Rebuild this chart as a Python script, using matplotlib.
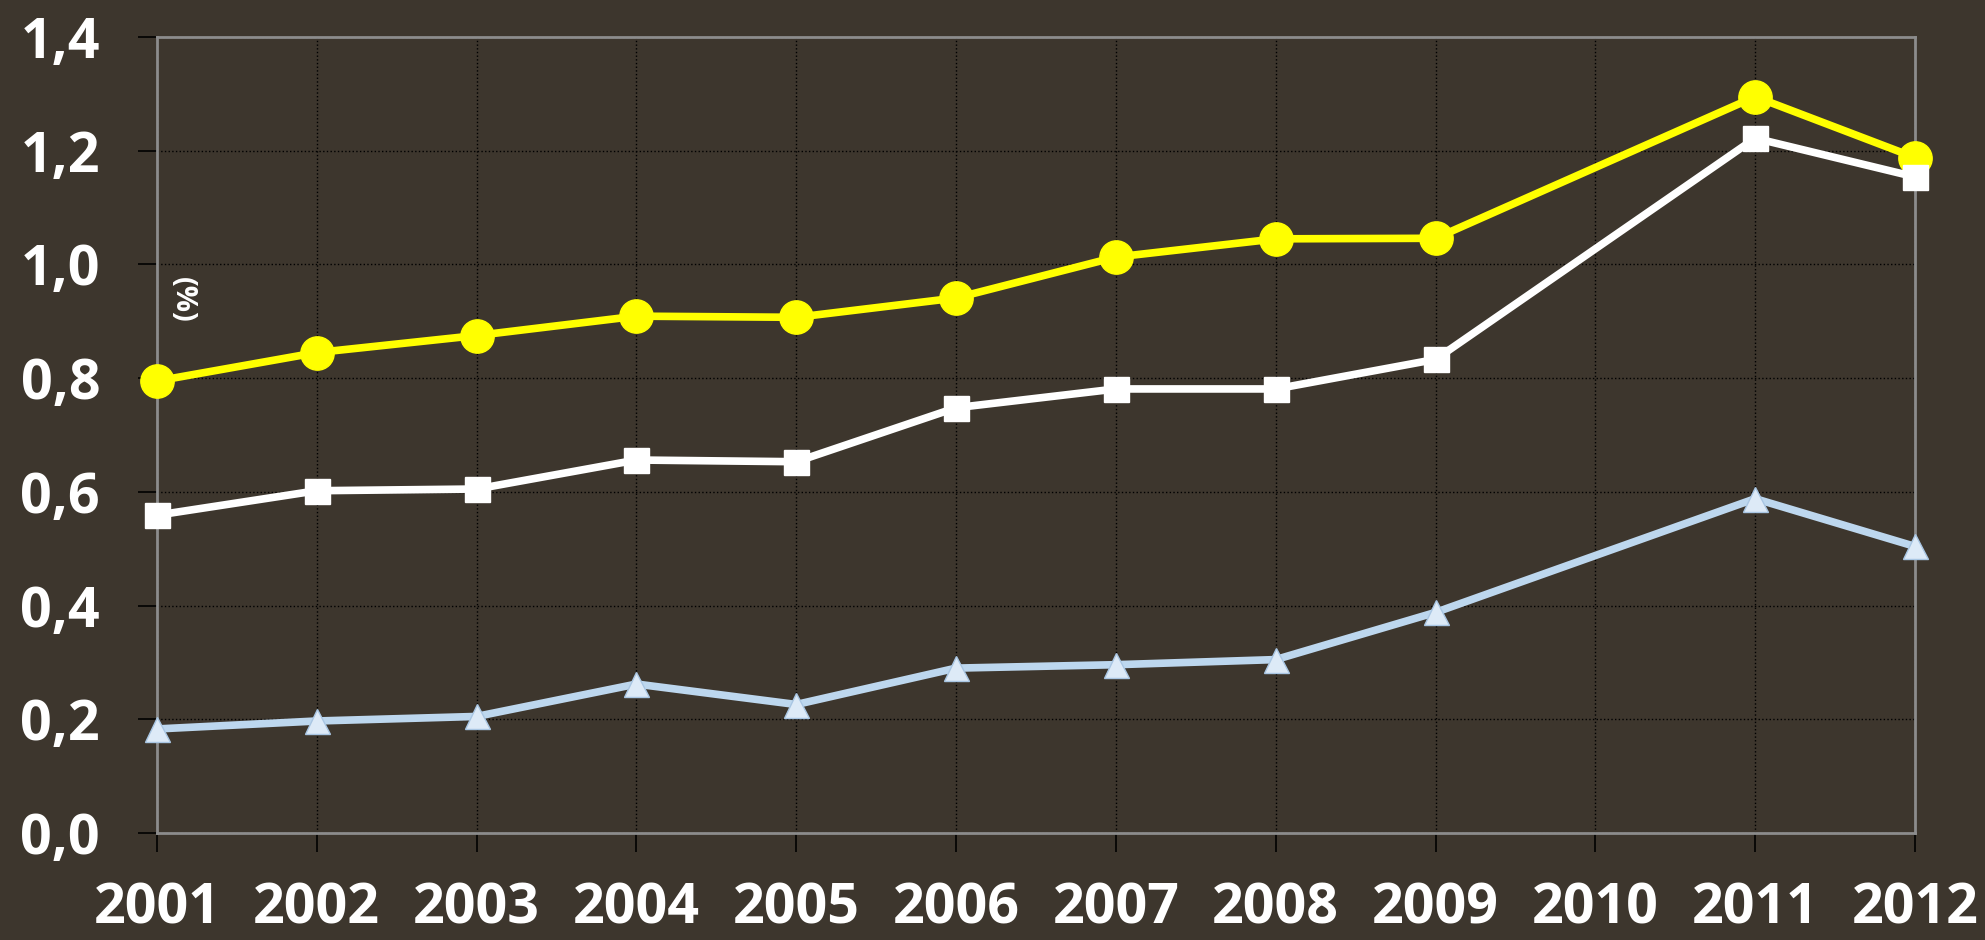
import matplotlib
matplotlib.use("Agg")
from matplotlib import pyplot as plt

years = ["2001", "2002", "2003", "2004", "2005", "2006", "2007", "2008", "2009", "2010", "2011", "2012"]
# None = no value for that year (line joins across the gap)
yellow_vals = [0.795, 0.845, 0.875, 0.909, 0.907, 0.941, 1.013, 1.045, 1.046, None, 1.295, 1.188]
white_vals = [0.559, 0.602, 0.605, 0.656, 0.653, 0.748, 0.781, 0.781, 0.833, None, 1.222, 1.154]
blue_vals = [0.183, 0.197, 0.205, 0.262, 0.226, 0.290, 0.296, 0.305, 0.388, None, 0.588, 0.504]
y_ticks = [0.0, 0.2, 0.4, 0.6, 0.8, 1.0, 1.2, 1.4]
y_labels = ["0,0", "0,2", "0,4", "0,6", "0,8", "1,0", "1,2", "1,4"]

bg = "#3d362d"
plt.rcParams['font.family'] = ['Open Sans', 'DejaVu Sans']

fig = plt.figure(figsize=(19.85, 9.4), dpi=100, facecolor=bg)
ax = fig.add_axes([157 / 1985, 107 / 940, (1915 - 157) / 1985, (833 - 37) / 940])
ax.set_facecolor(bg)


def pts(vals):
    xs = [i for i, v in enumerate(vals) if v is not None]
    ys = [v for v in vals if v is not None]
    return xs, ys


x, y = pts(yellow_vals)
ax.plot(x, y, '-o', color='#ffff00', lw=5.5, markersize=24, zorder=3, clip_on=False)
x, y = pts(white_vals)
ax.plot(x, y, '-s', color='white', lw=5.5, markersize=18, zorder=4, clip_on=False)
x, y = pts(blue_vals)
ax.plot(x, y, '-', color='#bdd7ee', lw=5.5, zorder=3, clip_on=False)
ax.plot(x, y, '^', markerfacecolor='#ddeaf7', markeredgecolor='#a9c6e3', markeredgewidth=1,
        markersize=18, zorder=5, clip_on=False)

ax.set_xlim(0, len(years) - 1)
ax.set_ylim(0, 1.4)
ax.set_xticks(range(len(years)))
ax.set_xticklabels(years)
ax.set_yticks(y_ticks)
ax.set_yticklabels(y_labels)

ax.grid(True, color='black', linestyle=':', linewidth=1, zorder=1)
ax.set_axisbelow(True)
for s in ax.spines.values():
    s.set_color('#8c8c8c')
    s.set_linewidth(2)

ax.tick_params(axis='both', colors='black', length=14, width=1.2,
               labelcolor='white', labelsize=40)
ax.tick_params(axis='y', pad=27)
ax.tick_params(axis='x', pad=21)
for lab in ax.get_xticklabels() + ax.get_yticklabels():
    lab.set_fontweight('bold')

ax.text(0.156, 0.937, "(%)", rotation=270, color='white', fontsize=21, fontweight='bold',
        ha='center', va='center')

fig.savefig("out.png", dpi=100, facecolor=bg)
